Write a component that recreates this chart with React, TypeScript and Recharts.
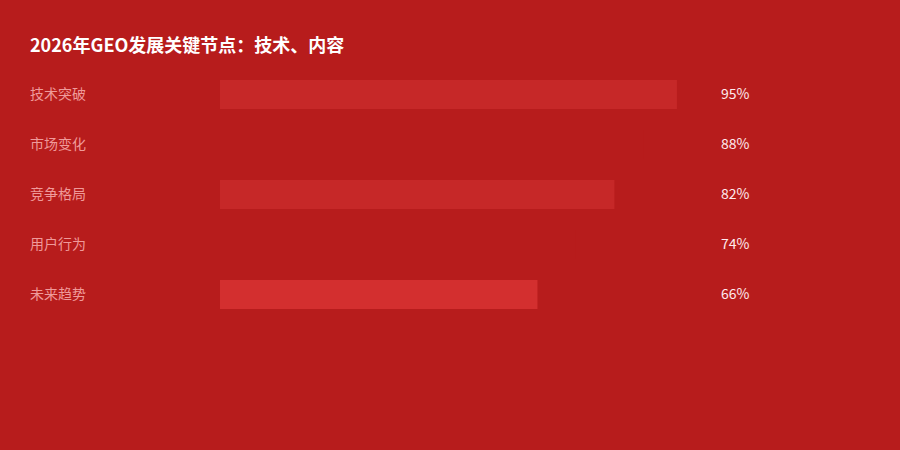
import React from 'react';
import { BarChart, Bar, XAxis, YAxis, Cell } from 'recharts';

const categories = ['技术突破', '市场变化', '竞争格局', '用户行为', '未来趋势'];
const values = [95, 88, 82, 74, 66];
const barColors = ['#C62828', '#B71C1C', '#C62828', '#B71C1C', '#D32F2F'];

const data = categories.map((name, i) => ({ name, value: values[i] }));

const FONT = '"Microsoft YaHei", "Noto Sans CJK SC", sans-serif';

const LeftTick = (props: any) => {
  const { y, payload } = props;
  return (
    <text x={30} y={y} dy={5} textAnchor="start" fill="#EF9A9A" fontSize={14} fontFamily={FONT}>
      {payload.value}
    </text>
  );
};

const RightTick = (props: any) => {
  const { x, y, payload } = props;
  const idx = categories.indexOf(payload.value);
  return (
    <text x={x + 12} y={y} dy={5} textAnchor="start" fill="#FFEBEE" fontSize={14} fontFamily={FONT}>
      {values[idx]}%
    </text>
  );
};

export default function App() {
  return (
    <div
      style={{
        position: 'absolute',
        left: 0,
        top: 0,
        width: 900,
        height: 450,
        background: '#B71C1C',
        overflow: 'hidden',
      }}
    >
      <div
        style={{
          position: 'absolute',
          left: 30,
          top: 31,
          color: '#ffffff',
          fontSize: 18,
          fontWeight: 'bold',
          fontFamily: FONT,
          lineHeight: '26px',
        }}
      >
        2026年GEO发展关键节点：技术、内容
      </div>
      <BarChart
        width={900}
        height={450}
        data={data}
        layout="vertical"
        margin={{ top: 69, right: 0, bottom: 131, left: 30 }}
        style={{ position: 'absolute', left: 0, top: 0 }}
      >
        <XAxis type="number" domain={[0, 100]} hide />
        <YAxis
          yAxisId="left"
          type="category"
          dataKey="name"
          width={190}
          axisLine={false}
          tickLine={false}
          tick={<LeftTick />}
        />
        <YAxis
          yAxisId="right"
          orientation="right"
          type="category"
          dataKey="name"
          width={199}
          axisLine={false}
          tickLine={false}
          tick={<RightTick />}
        />
        <Bar yAxisId="left" dataKey="value" barSize={29} isAnimationActive={false}>
          {data.map((_, i) => (
            <Cell key={`c-${i}`} fill={barColors[i]} />
          ))}
        </Bar>
      </BarChart>
    </div>
  );
}
